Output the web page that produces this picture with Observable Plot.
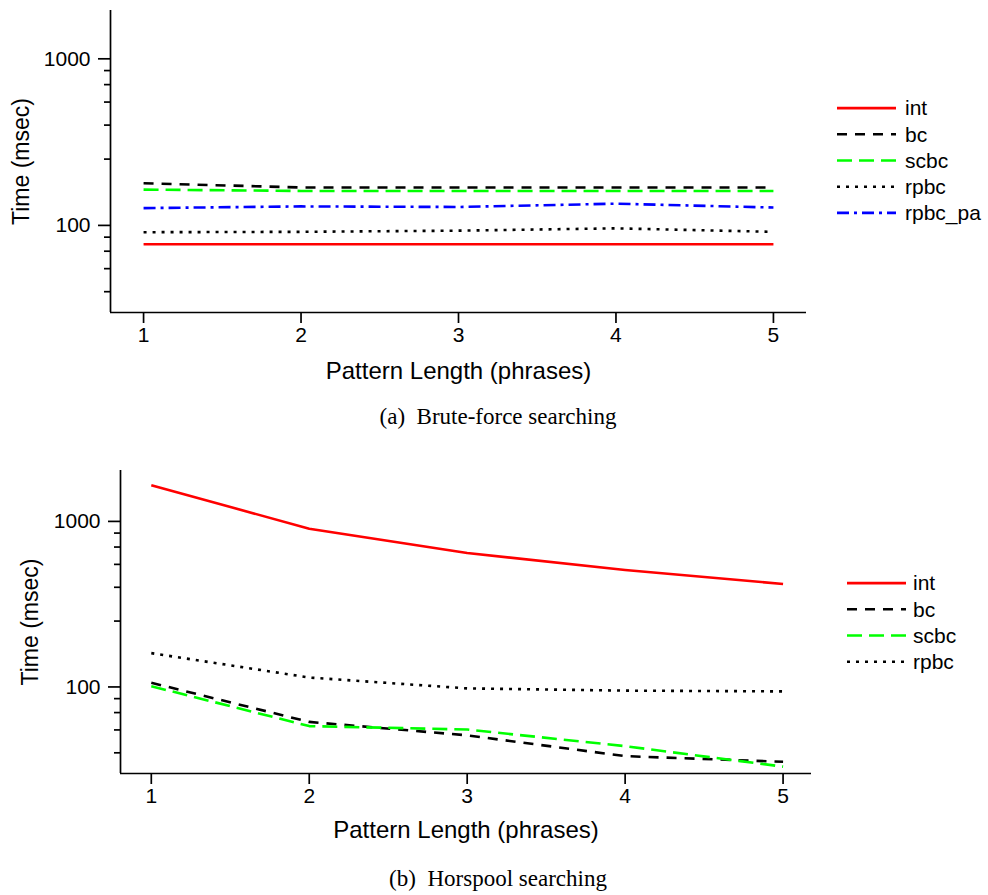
<!DOCTYPE html>
<html><head><meta charset="utf-8">
<script src="https://cdn.jsdelivr.net/npm/d3@7"></script>
<script src="https://cdn.jsdelivr.net/npm/@observablehq/plot@0.6"></script>
<style>
html,body{margin:0;padding:0;background:#fff;}
#root{position:relative;width:988px;height:895px;overflow:hidden;font-family:"Liberation Sans",Arial,sans-serif;color:#000;}
.panel{position:absolute;left:0;}
.caption{position:absolute;left:0;width:996px;text-align:center;font-family:"Liberation Serif","Times New Roman",serif;font-size:23px;white-space:pre;line-height:26px;}
.legend{position:absolute;}
</style></head><body><div id="root"></div>
<script>
// ---- data ----
const lengths = [1, 2, 3, 4, 5];
const majorTicks = [100, 1000];
const minorTicks = [40, 55, 70, 85, 250, 400, 550, 700, 850];

// (a) Brute-force searching
const bfNames = ["int", "bc", "scbc", "rpbc", "rpbc_pa"];
const bfInt    = [77, 77, 77, 77, 77];
const bfBc     = [179, 169, 169, 169, 169];
const bfScbc   = [164, 161, 161, 161, 161];
const bfRpbc   = [91, 91.5, 93, 96, 91.5];
const bfRpbcPa = [127, 130, 129, 135, 128];

// (b) Horspool searching
const hpNames = ["int", "bc", "scbc", "rpbc"];
const hpInt  = [1656, 903, 644, 509, 419];
const hpBc   = [106, 61.5, 51, 38.2, 35.3];
const hpScbc = [101, 58, 55.3, 43.9, 33];
const hpRpbc = [160, 114, 98, 95, 94];

// ---- styles ----
const colorOf = {int: "#ff0000", bc: "#000000", scbc: "#00ff00", rpbc: "#000000", rpbc_pa: "#0000ff"};
const dashOf = {int: null, bc: "10,8", scbc: "15,7", rpbc: "3,6", rpbc_pa: "12,5,3,5"};

const root = document.getElementById("root");

function chart(names, values, cfg) {
  const rows = names.flatMap((n, i) => lengths.map((x, j) => ({series: n, x, y: values[i][j]})));
  const axisW = 1.7;
  const p = Plot.plot({
    width: cfg.width, height: cfg.height,
    marginLeft: cfg.ml, marginRight: cfg.mr, marginTop: cfg.mt, marginBottom: cfg.mb,
    style: {fontFamily: "'Liberation Sans', Arial, sans-serif", fontSize: "21px", color: "#000", background: "#fff", overflow: "visible"},
    x: {type: "linear", domain: cfg.xDomain},
    y: {type: "log", domain: cfg.yDomain},
    marks: [
      Plot.axisY({ticks: minorTicks.filter(t => t > cfg.yDomain[0] && t < cfg.yDomain[1]), tickSize: 6, tickFormat: () => "", label: null, strokeWidth: axisW, strokeOpacity: 1}),
      Plot.axisY({ticks: majorTicks, tickSize: 12, tickPadding: 8, tickFormat: d3.format("d"), label: null, strokeWidth: axisW, strokeOpacity: 1}),
      Plot.axisY({ticks: [], tickSize: 0, tickFormat: () => "", label: "Time (msec)", labelAnchor: "center", labelArrow: "none", labelOffset: cfg.ylo, fontSize: 23}),
      Plot.axisX({ticks: lengths, tickSize: 11, tickPadding: 4, tickFormat: d3.format("d"), label: null, strokeWidth: axisW, strokeOpacity: 1}),
      Plot.axisX({ticks: [], tickSize: 0, tickFormat: () => "", label: "Pattern Length (phrases)", labelAnchor: "center", labelArrow: "none", labelOffset: cfg.xlo, fontSize: 24}),
      Plot.ruleX([cfg.xDomain[0]], {strokeWidth: axisW}),
      Plot.ruleY([cfg.yDomain[0]], {strokeWidth: axisW}),
      ...names.map(n => Plot.line(rows.filter(r => r.series === n), {
        x: "x", y: "y", stroke: colorOf[n], strokeWidth: 2.6,
        strokeDasharray: dashOf[n] || undefined, strokeLinecap: "butt", strokeLinejoin: "round"
      }))
    ]
  });
  const div = document.createElement("div");
  div.className = "panel";
  div.style.top = cfg.top + "px";
  div.appendChild(p);
  root.appendChild(div);
}

function legend(names, cfg) {
  const rowH = 26.2;
  const svg = d3.create("svg").attr("width", 160).attr("height", names.length * rowH + 10)
    .style("position", "absolute").style("left", cfg.left + "px").style("top", cfg.top + "px")
    .style("overflow", "visible");
  names.forEach((n, i) => {
    const y = 5 + rowH * i + rowH / 2;
    svg.append("line").attr("x1", 0).attr("x2", 59).attr("y1", y).attr("y2", y)
      .attr("stroke", colorOf[n]).attr("stroke-width", 2.6)
      .attr("stroke-dasharray", dashOf[n]).attr("stroke-linecap", "butt");
    svg.append("text").attr("x", cfg.textDx).attr("y", y).attr("dy", "0.35em")
      .attr("font-family", "'Liberation Sans', Arial, sans-serif").attr("font-size", 21)
      .attr("fill", "#000").text(n);
  });
  root.appendChild(svg.node());
}

function caption(text, top) {
  const d = document.createElement("div");
  d.className = "caption";
  d.style.top = top + "px";
  d.textContent = text;
  root.appendChild(d);
}

chart(bfNames, [bfInt, bfBc, bfScbc, bfRpbc, bfRpbcPa], {
  top: 0, width: 830, height: 390, ml: 110, mr: 24, mt: 10, mb: 78,
  xDomain: [0.79, 5.21], yDomain: [30, 1950], ylo: 98, xlo: 66
});
legend(bfNames, {left: 837, top: 90, textDx: 68});
caption("(a)  Brute-force searching", 404);

chart(hpNames, [hpInt, hpBc, hpScbc, hpRpbc], {
  top: 460, width: 830, height: 390, ml: 120, mr: 19, mt: 10, mb: 77,
  xDomain: [0.805, 5.18], yDomain: [30, 2030], ylo: 99, xlo: 64
});
legend(hpNames, {left: 847, top: 565, textDx: 66});
caption("(b)  Horspool searching", 866);
</script>
</body></html>
